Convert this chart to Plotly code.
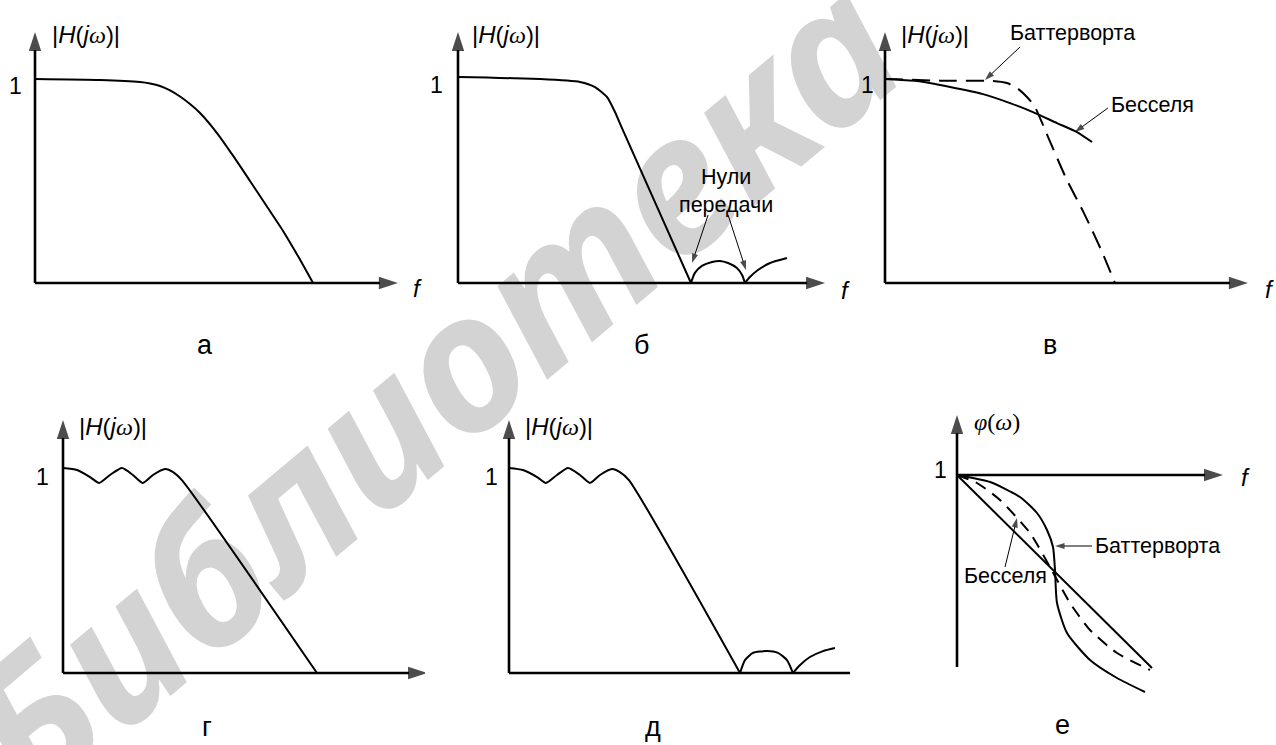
import plotly.graph_objects as go

# ---------------- data ----------------
# (f in panel units, |H| normalised so that the level "1" equals 1)
panel_letters = ["а", "б", "в", "г", "д", "е"]
mag_label = "|<i>H</i>(<i>j</i><span style='font-family:Liberation Serif'><i>ω</i></span>)|"
phase_label = "<span style='font-family:Liberation Serif'><i>φ</i>(<i>ω</i>)</span>"
one_label = "1"
f_label = "<i>f</i>"
zeros_label = "Нули<br>передачи"
butter_label = "Баттерворта"
bessel_label = "Бесселя"
watermark = "<b><i>Библиотека</i></b>"

# а
a_f = [0.0, 0.319, 0.515, 0.564, 0.613, 0.662, 0.711, 0.760, 0.809, 0.892, 0.975, 1.054, 1.132, 1.216, 1.289, 1.363]
a_H = [1.0, 0.995, 0.985, 0.978, 0.966, 0.944, 0.914, 0.877, 0.833, 0.735, 0.618, 0.500, 0.382, 0.255, 0.132, 0.0]

# б
b_f = [0.0, 0.398, 0.592, 0.665, 0.723, 0.762, 0.796, 1.131]
b_H = [1.0, 0.990, 0.976, 0.951, 0.903, 0.830, 0.752, 0.0]
b_l1_f = [1.131, 1.150, 1.184, 1.233, 1.272, 1.311, 1.354, 1.379, 1.393]
b_l1_H = [0.0, 0.049, 0.083, 0.102, 0.107, 0.097, 0.073, 0.039, 0.0]
b_l2_f = [1.393, 1.417, 1.456, 1.515, 1.597]
b_l2_H = [0.0, 0.029, 0.063, 0.097, 0.121]

# в
v_bw_f = [0.0, 0.270, 0.529, 0.598, 0.647, 0.696, 0.735, 0.799, 0.887, 0.980, 1.064, 1.127]
v_bw_H = [1.0, 0.992, 0.990, 0.980, 0.956, 0.912, 0.863, 0.716, 0.515, 0.333, 0.152, 0.0]
v_bs_f = [0.0, 0.157, 0.319, 0.480, 0.613, 0.725, 0.843, 0.941, 1.015]
v_bs_H = [1.0, 0.990, 0.961, 0.926, 0.882, 0.838, 0.784, 0.740, 0.691]

# г
g_f = [0.0, 0.068, 0.132, 0.176, 0.229, 0.288, 0.341, 0.390, 0.439, 0.498, 0.537, 0.580, 1.239]
g_H = [1.0, 0.990, 0.956, 0.927, 0.966, 1.0, 0.966, 0.927, 0.966, 0.995, 0.980, 0.941, 0.0]

# д
d_f = [0.0, 0.068, 0.137, 0.180, 0.234, 0.288, 0.346, 0.395, 0.444, 0.502, 0.541, 0.585, 1.127]
d_H = [1.0, 0.990, 0.956, 0.927, 0.966, 1.0, 0.966, 0.927, 0.966, 0.995, 0.980, 0.941, 0.0]
d_l1_f = [1.127, 1.151, 1.190, 1.259, 1.312, 1.356, 1.385]
d_l1_H = [0.0, 0.063, 0.098, 0.107, 0.098, 0.063, 0.0]
d_l2_f = [1.385, 1.420, 1.468, 1.532, 1.590]
d_l2_H = [0.0, 0.039, 0.078, 0.107, 0.122]

# е (phase, "1" at the f axis)
e_lin_f = [0.0, 0.975]
e_lin_p = [1.0, 0.035]
e_but_f = [0.0, 0.165, 0.315, 0.40, 0.45, 0.48, 0.49, 0.50, 0.55, 0.665, 0.80, 0.94]
e_but_p = [1.0, 0.965, 0.89, 0.81, 0.725, 0.64, 0.525, 0.36, 0.21, 0.075, -0.015, -0.085]
e_bes_f = [0.0, 0.10, 0.215, 0.365, 0.465, 0.565, 0.665, 0.80, 0.965]
e_bes_p = [1.0, 0.96, 0.875, 0.71, 0.54, 0.36, 0.225, 0.11, 0.025]

# ---------------- layout ----------------
W, H = 1276, 745
SANS = "Liberation Sans, Arial, sans-serif"
col_px = [0, 425, 850, 1276]
row_px = [0, 370, 745]
panels = [  # cell, origin pixel, pixels per unit, value at origin, axis ends
    dict(col=0, row=0, ox=35, oy=283, s=204, v0=0, xend=1.779, ybot=0.0, ytop=1.23),
    dict(col=1, row=0, ox=458, oy=283, s=206, v0=0, xend=1.782, ybot=0.0, ytop=1.218),
    dict(col=2, row=0, ox=885, oy=283, s=204, v0=0, xend=1.779, ybot=0.0, ytop=1.23),
    dict(col=0, row=1, ox=63, oy=673, s=205, v0=0, xend=1.776, ybot=0.0, ytop=1.234),
    dict(col=1, row=1, ox=509, oy=673, s=205, v0=0, xend=1.81, ybot=0.0, ytop=1.234),
    dict(col=2, row=1, ox=957, oy=475, s=200, v0=1, xend=1.33, ybot=0.04, ytop=1.30),
]

fig = go.Figure()


def refs(i):
    sfx = "" if i == 0 else str(i + 1)
    return "x" + sfx, "y" + sfx


for i, p in enumerate(panels):
    X0, X1 = col_px[p["col"]], col_px[p["col"] + 1]
    Y0, Y1 = row_px[p["row"]], row_px[p["row"] + 1]
    xr = [(X0 - p["ox"]) / p["s"], (X1 - p["ox"]) / p["s"]]
    yr = [p["v0"] + (p["oy"] - Y1) / p["s"], p["v0"] + (p["oy"] - Y0) / p["s"]]
    xa, ya = refs(i)
    sfx = xa[1:]
    fig.update_layout(**{
        "xaxis" + sfx: dict(domain=[X0 / W, X1 / W], range=xr, visible=False,
                            anchor=ya, fixedrange=True),
        "yaxis" + sfx: dict(domain=[1 - Y1 / H, 1 - Y0 / H], range=yr, visible=False,
                            anchor=xa, fixedrange=True),
    })


def curve(i, f, v, dash="solid", width=2.0, smooth=0.6):
    xa, ya = refs(i)
    fig.add_trace(go.Scatter(
        x=f, y=v, xaxis=xa, yaxis=ya, mode="lines",
        line=dict(color="black", width=width, dash=dash, shape="spline", smoothing=smooth),
        hoverinfo="skip", showlegend=False))


def arrow(i, f, v, width, size):
    xa, ya = refs(i)
    fig.add_trace(go.Scatter(
        x=f, y=v, xaxis=xa, yaxis=ya, mode="lines+markers",
        line=dict(color="black", width=width),
        marker=dict(symbol="arrow", size=[0, size], angleref="previous",
                    color="black", line=dict(width=0)),
        hoverinfo="skip", showlegend=False))


def text(i, t, f, v, size, xanchor="center", yanchor="middle", family=SANS):
    xa, ya = refs(i)
    fig.add_annotation(x=f, y=v, xref=xa, yref=ya, text=t, showarrow=False,
                       xanchor=xanchor, yanchor=yanchor,
                       font=dict(size=size, family=family, color="black"))


# coordinate axes with arrows
for i, p in enumerate(panels):
    arrow(i, [0, 0], [p["ybot"], p["ytop"]], 2.6, 20)
    arrow(i, [0, p["xend"]], [p["v0"], p["v0"]], 2.6, 20)

# curves
curve(0, a_f, a_H)
curve(1, b_f, b_H)
curve(1, b_l1_f, b_l1_H)
curve(1, b_l2_f, b_l2_H)
curve(2, v_bw_f, v_bw_H, dash="18px,9px")
curve(2, v_bs_f, v_bs_H)
curve(3, g_f, g_H)
curve(4, d_f, d_H)
curve(4, d_l1_f, d_l1_H)
curve(4, d_l2_f, d_l2_H)
curve(5, e_lin_f, e_lin_p)
curve(5, e_but_f, e_but_p)
curve(5, e_bes_f, e_bes_p, dash="12px,8px")

# pointer arrows
arrow(1, [1.214, 1.136], [0.330, 0.097], 1.0, 10)
arrow(1, [1.311, 1.398], [0.330, 0.063], 1.0, 10)
arrow(2, [0.662, 0.490], [1.157, 0.995], 1.0, 10)
arrow(2, [1.093, 0.931], [0.858, 0.740], 1.0, 10)
arrow(5, [0.24, 0.30], [0.54, 0.785], 1.0, 10)
arrow(5, [0.675, 0.49], [0.645, 0.645], 1.0, 10)

# texts
label_pos = [
    dict(one=(-0.098, 0.966), lab=(0.074, 1.216), f=(1.873, -0.025), let=(0.833, -0.304)),
    dict(one=(-0.102, 0.961), lab=(0.058, 1.204), f=(1.879, -0.034), let=(0.893, -0.301)),
    dict(one=(-0.088, 0.971), lab=(0.069, 1.216), f=(1.887, -0.034), let=(0.809, -0.304)),
    dict(one=(-0.098, 0.956), lab=(0.068, 1.200), f=(1.839, -0.034), let=(0.702, -0.265)),
    dict(one=(-0.083, 0.956), lab=(0.068, 1.200), f=(1.893, -0.034), let=(0.702, -0.265)),
    dict(one=(-0.085, 1.025), lab=(0.075, 1.265), f=(1.440, 0.985), let=(0.525, -0.250)),
]
for i, lp in enumerate(label_pos):
    text(i, one_label, *lp["one"], 23)
    text(i, phase_label if i == 5 else mag_label, *lp["lab"], 24, xanchor="left")
    text(i, f_label, *lp["f"], 24)
    text(i, panel_letters[i], *lp["let"], 27)

TS = 21.5
text(1, zeros_label, 1.301, 0.449, TS)
text(2, butter_label, 0.917, 1.225, TS)
text(2, bessel_label, 1.309, 0.873, TS)
text(5, bessel_label, 0.24, 0.495, TS)
text(5, butter_label, 0.68, 0.645, TS, xanchor="left")

# watermark (behind the drawing)
fig.add_shape(type="rect", xref="paper", yref="paper",
              x0=435 / W - 0.01, x1=435 / W + 0.01, y0=1 - 395 / H - 0.01, y1=1 - 395 / H + 0.01,
              line=dict(width=0), fillcolor="rgba(0,0,0,0)", layer="below",
              label=dict(text=watermark, textangle=-40, textposition="middle center",
                         font=dict(size=190, family="Noto Sans, Liberation Sans, sans-serif",
                                   color="#d3d3d3")))

fig.update_layout(width=W, height=H, margin=dict(l=0, r=0, t=0, b=0),
                  paper_bgcolor="white", plot_bgcolor="rgba(0,0,0,0)",
                  showlegend=False)

fig.write_html("out.html", config={"displayModeBar": False, "staticPlot": True},
               post_script="document.body.style.margin='0';")
